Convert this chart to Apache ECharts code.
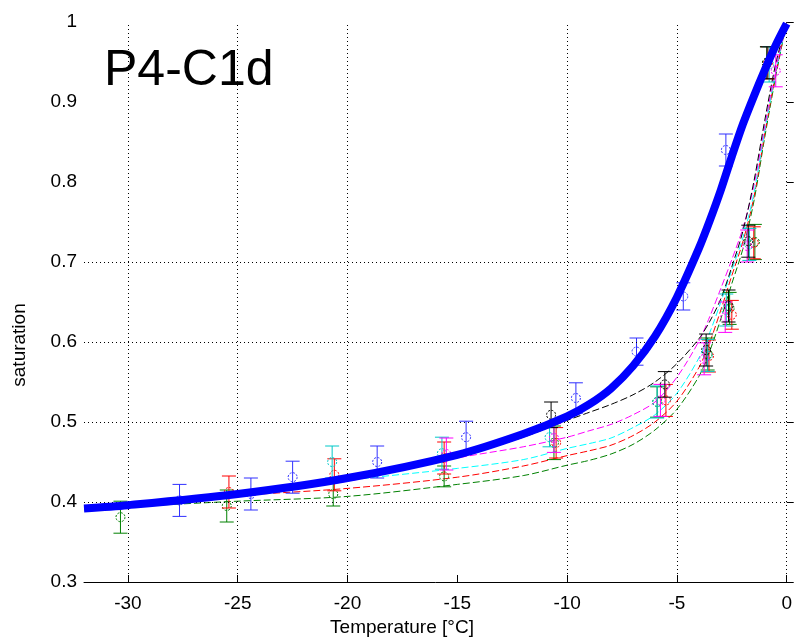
<!DOCTYPE html>
<html><head><meta charset="utf-8">
<script src="https://cdn.jsdelivr.net/npm/echarts@6/dist/echarts.min.js"></script>
<style>html,body{margin:0;padding:0;background:#fff}#c{width:795px;height:642px}</style>
</head><body><div id="c"></div>
<script>
const xTicks = [-30, -25, -20, -15, -10, -5, 0];
const yTicks = [0.3, 0.4, 0.5, 0.6, 0.7, 0.8, 0.9, 1];
const xGrid = [-30, -25, -20, -10, -5, 0];
const yGrid = [0.4, 0.5, 0.6, 0.7];

const fitX       = [-32,   -30,   -25,   -20,   -15,   -12,   -10,   -9,    -8,    -7,    -6,    -5,    -4,    -3.5,  -3,    -2.5,  -2,    -1.5,  -1,    -0.5,  0];
const fitBlue    = [0.392, 0.396, 0.410, 0.430, 0.459, 0.485, 0.507, 0.522, 0.542, 0.570, 0.607, 0.656, 0.717, 0.752, 0.790, 0.832, 0.872, 0.907, 0.940, 0.971, 0.998];
const fitBlack   = [0.394, 0.398, 0.411, 0.428, 0.456, 0.481, 0.502, 0.512, 0.522, 0.534, 0.550, 0.573, 0.604, 0.626, 0.654, 0.694, 0.738, 0.800, 0.877, 0.948, 1.000];
const fitMagenta = [0.393, 0.397, 0.409, 0.426, 0.455, 0.469, 0.481, 0.489, 0.497, 0.509, 0.525, 0.556, 0.601, 0.632, 0.667, 0.703, 0.742, 0.795, 0.870, 0.942, 1.000];
const fitCyan    = [0.392, 0.396, 0.408, 0.427, 0.442, 0.453, 0.467, 0.473, 0.480, 0.493, 0.509, 0.536, 0.580, 0.612, 0.650, 0.690, 0.730, 0.785, 0.864, 0.938, 1.000];
const fitRed     = [0.391, 0.396, 0.408, 0.417, 0.431, 0.445, 0.458, 0.464, 0.471, 0.483, 0.500, 0.526, 0.568, 0.600, 0.640, 0.683, 0.725, 0.780, 0.860, 0.935, 1.000];
const fitGreen   = [0.390, 0.394, 0.401, 0.407, 0.422, 0.433, 0.446, 0.452, 0.460, 0.472, 0.490, 0.516, 0.557, 0.589, 0.629, 0.673, 0.716, 0.775, 0.856, 0.932, 1.000];

// [temperature, saturation, error]
const ptsBlue = [[-27.65, 0.402, 0.02], [-24.4, 0.410, 0.02], [-22.5, 0.431, 0.02], [-18.65, 0.450, 0.02], [-14.6, 0.481, 0.02], [-9.6, 0.530, 0.019], [-6.84, 0.588, 0.017], [-4.71, 0.657, 0.017], [-2.77, 0.840, 0.02]];
const ptsBlack = [[-10.73, 0.509, 0.016], [-5.55, 0.547, 0.016], [-3.67, 0.590, 0.02], [-2.65, 0.645, 0.02], [-1.75, 0.726, 0.02], [-0.9, 0.949, 0.02]];
const ptsMagenta = [[-15.5, 0.460, 0.02], [-10.6, 0.480, 0.018], [-5.75, 0.527, 0.02], [-3.76, 0.579, 0.02], [-2.8, 0.631, 0.019], [-1.8, 0.720, 0.02], [-0.5, 0.939, 0.02]];
const ptsCyan = [[-20.7, 0.450, 0.02], [-15.7, 0.461, 0.02], [-10.8, 0.481, 0.012], [-5.9, 0.525, 0.02], [-3.6, 0.583, 0.02], [-2.75, 0.640, 0.02], [-1.7, 0.722, 0.02], [-0.8, 0.947, 0.022]];
const ptsRed = [[-25.4, 0.4125, 0.02], [-20.6, 0.434, 0.02], [-15.6, 0.455, 0.02], [-10.5, 0.474, 0.019], [-5.5, 0.527, 0.02], [-3.54, 0.5825, 0.02], [-2.5, 0.634, 0.018], [-1.5, 0.724, 0.02], [-0.85, 0.949, 0.02]];
const ptsGreen = [[-30.34, 0.381, 0.02], [-25.5, 0.395, 0.02], [-20.65, 0.410, 0.015], [-15.6, 0.432, 0.013], [-10.6, 0.474, 0.021], [-5.9, 0.525, 0.019], [-3.6, 0.585, 0.02], [-2.6, 0.642, 0.02], [-1.45, 0.725, 0.022], [-0.9, 0.949, 0.02]];

const chart = echarts.init(document.getElementById('c'), null, {renderer: 'canvas'});
const FONT = '"Liberation Sans", Arial, sans-serif';

function fitSeries(ys, color, width, dash, z) {
  return {
    type: 'line', data: fitX.map((x, i) => [x, ys[i]]), smooth: 0.3,
    showSymbol: false, silent: true, z: z,
    lineStyle: {color: color, width: width, type: dash}
  };
}
function errSeries(pts, color) {
  return {
    type: 'custom', z: 3, silent: true, data: pts, encode: {x: 0, y: 1},
    renderItem: function (params, api) {
      const x = api.value(0), y = api.value(1), e = api.value(2);
      const t = api.coord([x, y + e]), b = api.coord([x, y - e]), c = api.coord([x, y]);
      const w = 7;
      const st = {stroke: color, lineWidth: 1, fill: 'none'};
      return {type: 'group', children: [
        {type: 'line', shape: {x1: t[0], y1: t[1], x2: b[0], y2: b[1]}, style: st},
        {type: 'line', shape: {x1: t[0] - w, y1: t[1], x2: t[0] + w, y2: t[1]}, style: st},
        {type: 'line', shape: {x1: b[0] - w, y1: b[1], x2: b[0] + w, y2: b[1]}, style: st},
        {type: 'circle', shape: {cx: c[0], cy: c[1], r: 4.5}, style: {stroke: color, lineWidth: 1, fill: 'none', lineDash: [2, 1.5]}}
      ]};
    }
  };
}

const gridSeries = {
  type: 'line', data: [[-32, 0.3]], showSymbol: false, silent: true, z: 0,
  lineStyle: {width: 0},
  markLine: {
    silent: true, symbol: ['none', 'none'], label: {show: false}, animation: false,
    lineStyle: {color: '#000', width: 1, type: [1, 3]},
    data: xGrid.map(v => ({xAxis: v})).concat(yGrid.map(v => ({yAxis: v})))
  }
};

chart.setOption({
  animation: false,
  backgroundColor: '#fff',
  grid: {left: 84, right: 4, top: 22, bottom: 60},
  xAxis: {
    type: 'value', min: -32, max: 0,
    axisLine: {show: true, lineStyle: {color: '#000', width: 1}},
    axisTick: {show: true, inside: true, length: 7, customValues: xTicks, lineStyle: {color: '#000'}},
    axisLabel: {customValues: xTicks, color: '#000', fontSize: 19, fontFamily: FONT, margin: 12},
    splitLine: {show: false}
  },
  yAxis: {
    type: 'value', min: 0.3, max: 1,
    axisLine: {show: false},
    axisTick: {show: true, inside: true, length: 7, customValues: yTicks, lineStyle: {color: '#000'}},
    axisLabel: {customValues: yTicks, color: '#000', fontSize: 19, fontFamily: FONT, margin: 7,
      formatter: v => String(Math.round(v * 10) / 10)},
    splitLine: {show: false}
  },
  graphic: [
    {type: 'text', x: 104, y: 71, silent: true,
      style: {text: 'P4-C1d', font: '50px ' + FONT, fill: '#000', verticalAlign: 'middle', align: 'left'}},
    {type: 'text', x: 402, y: 628, silent: true,
      style: {text: 'Temperature [°C]', font: '19px ' + FONT, fill: '#000', verticalAlign: 'middle', align: 'center'}},
    {type: 'text', x: 20, y: 345, rotation: Math.PI / 2, silent: true,
      style: {text: 'saturation', font: '19px ' + FONT, fill: '#000', verticalAlign: 'middle', align: 'center'}}
  ],
  series: [
    gridSeries,
    fitSeries(fitGreen, '#008000', 1, [7, 3], 2),
    fitSeries(fitRed, '#ff0000', 1, [7, 3], 2),
    fitSeries(fitCyan, '#00ffff', 1, [7, 3], 2),
    fitSeries(fitMagenta, '#ff00ff', 1, [7, 3], 2),
    fitSeries(fitBlack, '#000000', 1, [7, 3], 2),
    errSeries(ptsGreen, '#008000'),
    errSeries(ptsRed, '#ff0000'),
    errSeries(ptsCyan, '#00c8c8'),
    errSeries(ptsMagenta, '#ff00ff'),
    errSeries(ptsBlack, '#000000'),
    errSeries(ptsBlue, '#3030ff'),
    fitSeries(fitBlue, '#0000ff', 8, 'solid', 5)
  ]
});
</script>
</body></html>
